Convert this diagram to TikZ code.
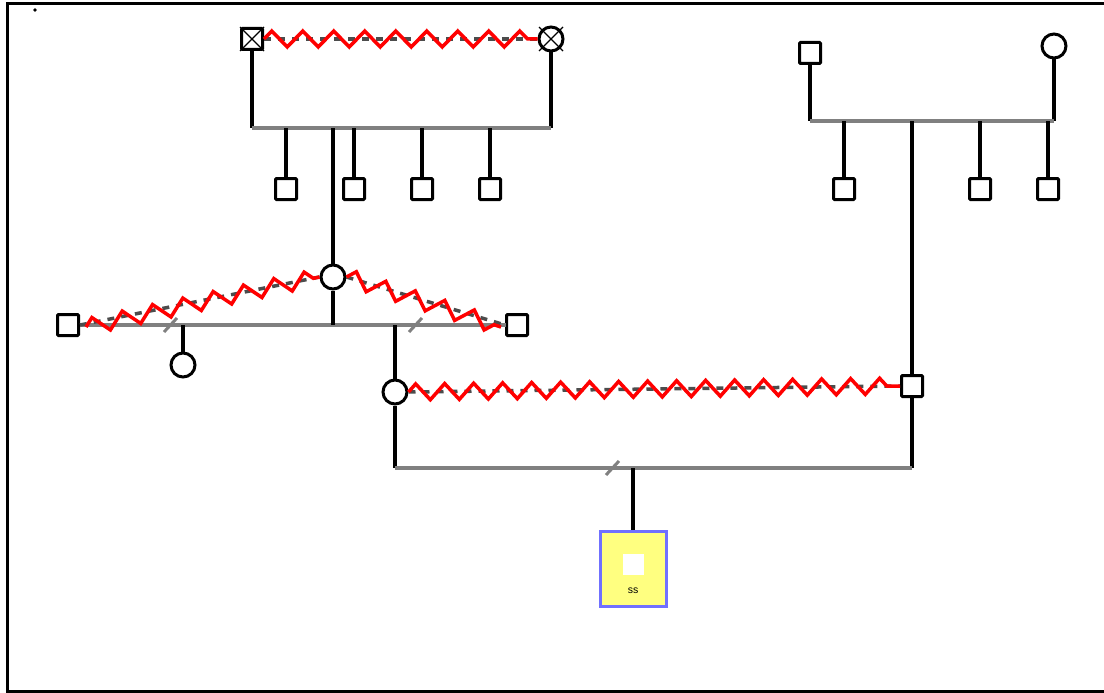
\documentclass[tikz,border=0pt]{standalone}
\usepackage{fontspec}
\setmainfont{Liberation Sans}
\usetikzlibrary{decorations.pathmorphing,calc}
\begin{document}
\begin{tikzpicture}[x=1pt,y=-1pt,
  male/.style={draw=black,line width=3pt,fill=white,minimum size=21pt,inner sep=0pt,rectangle,rounded corners=1pt},
  female/.style={draw=black,line width=3pt,fill=white,minimum size=24pt,inner sep=0pt,circle},
  vline/.style={draw=black,line width=3.5pt},
  sib/.style={draw=gray,line width=3.5pt},
  dline/.style={draw=black!70,line width=3.5pt,dash pattern=on 7pt off 7pt},
  zig/.style={draw=red,line width=3.5pt,decorate,decoration={zigzag,segment length=27pt,amplitude=8pt}},
  slash/.style={draw=gray,line width=3pt},
  xline/.style={draw=black,line width=1.2pt}]
\useasboundingbox (0,0) rectangle (1104,693);
\draw[line width=3pt] (1104,4) -- (7,4) -- (7,691) -- (1104,691);
\fill (35,10) circle (1.8pt);

% nodes
\node[male] (sqA) at (252,39) {};
\node[female] (cA) at (551,39) {};
\node[male] (s1) at (286,189) {};
\node[male] (s2) at (354,189) {};
\node[male] (s3) at (422,189) {};
\node[male] (s4) at (490,189) {};
\node[female] (c2) at (333,277) {};
\node[male] (sqL) at (68,325) {};
\node[male] (sqR) at (517,325) {};
\node[female] (cL) at (183,365) {};
\node[female] (cM) at (395,392) {};
\node[male] (sqM) at (912,386) {};
\node[male] (sqB) at (810,53) {};
\node[female] (cB) at (1054,46) {};
\node[male] (r1) at (844,189) {};
\node[male] (r2) at (980,189) {};
\node[male] (r3) at (1048,189) {};
\node[draw={rgb,255:red,112;green,112;blue,255},line width=3pt,fill={rgb,255:red,255;green,255;blue,128},minimum width=66pt,minimum height=75pt,inner sep=0pt] (box) at (633,568.5) {};
\node[fill=white,minimum size=21pt,inner sep=0pt] (boxsq) at (633,564) {};
\node[font=\fontsize{10.5}{11}\selectfont,inner sep=0pt] (ss) at (633,591) {ss};

% crosses
\draw[xline] (sqA.south west) -- (sqA.north east) (sqA.north west) -- (sqA.south east);
\draw[xline] ($(cA.center)+(-12,-12)$) -- ($(cA.center)+(12,12)$);
\draw[xline] ($(cA.center)+(-12,12)$) -- ($(cA.center)+(12,-12)$);

% coordinates
\coordinate (jA) at (252,128);
\coordinate (jA2) at (551,128);
\coordinate (jL) at (80,325);
\coordinate (jR) at (506,325);
\coordinate (jM) at (395,468);
\coordinate (jM2) at (912,468);
\coordinate (jB) at (810,121);
\coordinate (jB2) at (1054,121);

% top left family
\draw[vline] (sqA.south) -- (jA);
\draw[vline] (cA.south) -- (jA2);
\draw[sib] (jA) -- (jA2);
\foreach \n in {s1,s2,s3,s4} \draw[vline] (\n.north) -- (\n.north |- jA);
\draw[vline] (c2.north) -- (c2.north |- jA);
\draw[dline] (sqA.east) -- (cA.west);
\draw[zig,decoration={segment length=31pt}] (sqA.east) -- (cA.west);

% middle family
\draw[sib] (jL) -- (jR);
\draw[vline] (c2.south) -- (c2.south |- jL);
\draw[vline] (cL.north) -- (cL.north |- jL);
\draw[vline] (cM.north) -- (cM.north |- jL);
\draw[dline] (sqL.east) -- (c2.west);
\draw[dline] (c2.east) -- (sqR.west);
\draw[zig,decoration={segment length=31pt}] ($(sqL.east)+(6,2)$) -- (c2.west);
\draw[zig,decoration={segment length=31pt}] (c2.east) -- ($(sqR.west)+(-4,2)$);
\draw[slash] (164,332) -- (177,318);
\draw[slash] (409,332) -- (422,318);

% lower family
\draw[vline] (cM.south) -- (jM);
\draw[vline] (sqM.south) -- (jM2);
\draw[sib] (jM) -- (jM2);
\draw[slash] (606,475) -- (619,461);
\draw[vline] (box.north) -- (box.north |- jM);
\draw[dline] (cM.east) -- (sqM.west);
\draw[zig,decoration={segment length=29pt}] (cM.east) -- (sqM.west);

% right family
\draw[vline] (sqB.south) -- (jB);
\draw[vline] (cB.south) -- (jB2);
\draw[sib] (jB) -- (jB2);
\foreach \n in {r1,r2,r3} \draw[vline] (\n.north) -- (\n.north |- jB);
\draw[vline] (sqM.north) -- (sqM.north |- jB);
\end{tikzpicture}
\end{document}
